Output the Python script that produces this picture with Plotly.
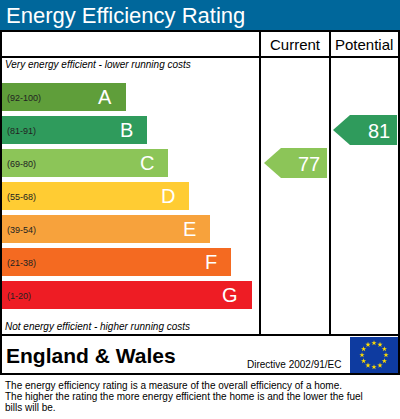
import math
import plotly.graph_objects as go

bands = ["A", "B", "C", "D", "E", "F", "G"]
ranges = ["(92-100)", "(81-91)", "(69-80)", "(55-68)", "(39-54)", "(21-38)", "(1-20)"]
lengths = [124, 145, 166, 187, 208, 229, 250]
colors = ["#5f9e3a", "#2f9b5c", "#8cc558", "#ffcc33", "#f7a23c", "#f46a21", "#ee1c24"]
current_rating, current_band = 77, "C"
potential_rating, potential_band = 81, "B"

W, H = 400, 419
top0, step, bh = 97, 33, 28
centers = [top0 + i * step for i in range(len(bands))]
FONT = "Liberation Sans"

fig = go.Figure()
fig.add_trace(go.Bar(
    y=centers, x=lengths, base=2, orientation="h", width=bh,
    marker=dict(color=colors, line=dict(width=0)), hoverinfo="skip",
))

ann = []
for c, r, L, b in zip(centers, ranges, lengths, bands):
    ann.append(dict(x=5, y=c + 1, text=r, xanchor="left", showarrow=False,
                    font=dict(size=9, color="#222222", family=FONT)))
    ann.append(dict(x=2 + L - 12, y=c, text=b, xanchor="right", showarrow=False,
                    font=dict(size=20, color="white", family=FONT)))


def arrow(x0, x1, band, rating, col):
    yc = centers[bands.index(band)]
    h = 15
    xs = [x0, x0 + 17, x1, x1, x0 + 17, x0]
    ys = [yc, yc - h, yc - h, yc + h, yc + h, yc]
    fig.add_trace(go.Scatter(x=xs, y=ys, fill="toself", fillcolor=col, mode="lines",
                             line=dict(width=0, color=col), hoverinfo="skip"))
    ann.append(dict(x=x1 - 5, y=yc + 1, text=str(rating), xanchor="right", showarrow=False,
                    font=dict(size=20, color="white", family=FONT)))


arrow(264, 327, current_band, current_rating, colors[bands.index(current_band)])
arrow(333, 397, potential_band, potential_rating, colors[bands.index(potential_band)])

ann += [
    dict(x=4, y=15, text="Energy Efficiency Rating", xanchor="left", showarrow=False,
         font=dict(size=22, color="white", family=FONT)),
    dict(x=295, y=44, text="Current", showarrow=False,
         font=dict(size=15, color="black", family=FONT)),
    dict(x=364, y=44, text="Potential", showarrow=False,
         font=dict(size=15, color="black", family=FONT)),
    dict(x=3, y=64, text="<i>Very energy efficient - lower running costs</i>", xanchor="left",
         showarrow=False, font=dict(size=10, color="black", family=FONT)),
    dict(x=3, y=326, text="<i>Not energy efficient - higher running costs</i>", xanchor="left",
         showarrow=False, font=dict(size=10, color="black", family=FONT)),
    dict(x=4, y=355, text="<b>England & Wales</b>", xanchor="left", showarrow=False,
         font=dict(size=21, color="black", family=FONT)),
    dict(x=344, y=364, text="Directive 2002/91/EC", xanchor="right", showarrow=False,
         font=dict(size=10, color="black", family=FONT)),
    dict(x=3, y=385, text="The energy efficiency rating is a measure of the overall efficiency of a home.",
         xanchor="left", showarrow=False, font=dict(size=10, color="black", family=FONT)),
    dict(x=3, y=396, text="The higher the rating the more energy efficient the home is and the lower the fuel",
         xanchor="left", showarrow=False, font=dict(size=10, color="black", family=FONT)),
    dict(x=3, y=407, text="bills will be.",
         xanchor="left", showarrow=False, font=dict(size=10, color="black", family=FONT)),
]

# EU stars
sx = [374 + 12 * math.cos(2 * math.pi * k / 12) for k in range(12)]
sy = [355 + 12 * math.sin(2 * math.pi * k / 12) for k in range(12)]
fig.add_trace(go.Scatter(x=sx, y=sy, mode="markers", hoverinfo="skip",
                         marker=dict(symbol="star", size=4, color="#ffdd00")))

ln = dict(color="black", width=2)
shapes = [
    dict(type="rect", x0=0, x1=W, y0=0, y1=30, fillcolor="#00679b", line=dict(width=0), layer="below"),
    dict(type="rect", x0=1, x1=399, y0=31, y1=374, line=ln),
    dict(type="line", x0=1, x1=399, y0=57, y1=57, line=ln),
    dict(type="line", x0=1, x1=399, y0=335, y1=335, line=ln),
    dict(type="line", x0=260, x1=260, y0=31, y1=335, line=ln),
    dict(type="line", x0=330, x1=330, y0=31, y1=335, line=ln),
    dict(type="rect", x0=350, x1=398, y0=337, y1=373, fillcolor="#0e3ba0", line=dict(width=0), layer="below"),
]

fig.update_layout(
    width=W, height=H, margin=dict(l=0, r=0, t=0, b=0), showlegend=False,
    plot_bgcolor="white", paper_bgcolor="white", bargap=0,
    xaxis=dict(range=[0, W], visible=False, fixedrange=True),
    yaxis=dict(range=[H, 0], visible=False, fixedrange=True),
    shapes=shapes, annotations=ann,
)
fig.write_html("out.html", config={"displayModeBar": False},
               post_script="document.body.style.margin='0';document.body.style.overflow='hidden';")
